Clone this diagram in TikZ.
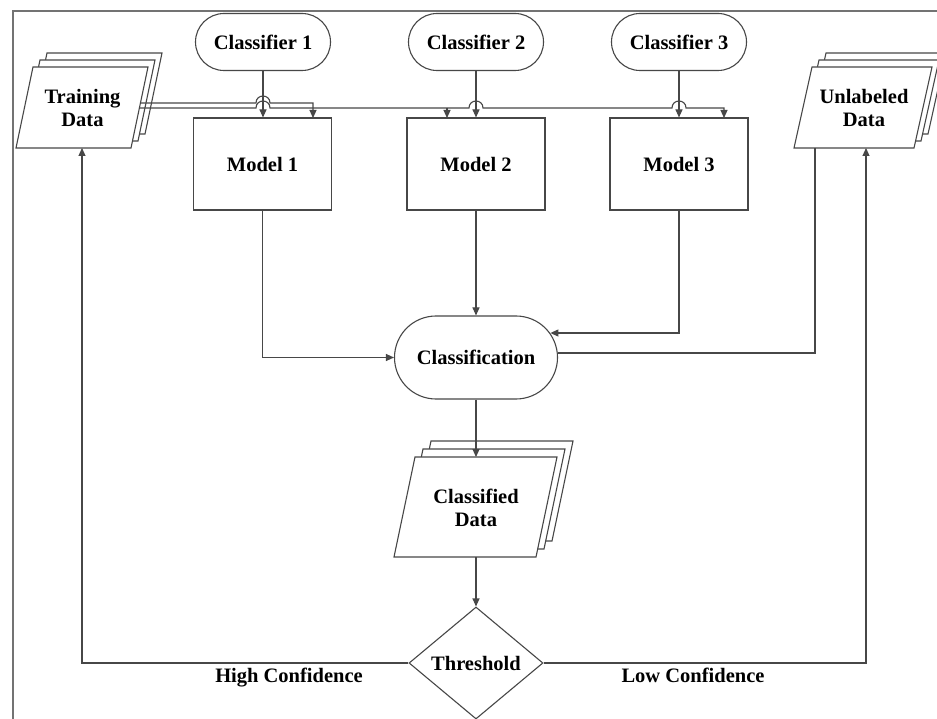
\documentclass[tikz,border=0pt]{standalone}
\usepackage{fontspec}
\setmainfont{Liberation Serif}
\usetikzlibrary{arrows.meta,shapes.geometric}
\newcommand\lbl{\fontsize{20.5}{23}\selectfont\bfseries}
\newcommand\docstack[7]{%
  \foreach \k in {2,1,0}{%
    \draw[doc] ({#1+\k*#6},{#2-\k*#7}) -- ++(#3,0) -- ++(-#5,#4) -- ++(-#3,0) -- cycle;
  }}
\begin{document}
\begin{tikzpicture}[x=1pt,y=-1pt,
  line/.style={draw=black!72,line width=1.1pt},
  arr/.style={line,-{Triangle[length=8pt,width=7pt]}},
  doc/.style={line,fill=white},
  pill/.style={line,rounded corners=28.5pt,minimum width=135pt,minimum height=57pt,inner sep=0pt,font=\lbl},
  bigpill/.style={line,rounded corners=41.5pt,minimum width=163pt,minimum height=83pt,inner sep=0pt,font=\lbl},
  model/.style={line,minimum width=138pt,minimum height=92pt,inner sep=0pt,font=\lbl},
  txt/.style={font=\lbl,align=center,inner sep=0pt},
  decide/.style={line,diamond,minimum width=134pt,minimum height=112pt,inner sep=0pt,font=\lbl}]
\useasboundingbox (0,0) rectangle (937,719);
\fill[white] (0,0) rectangle (937,719);
% frame
\draw[draw=black!55,line width=1.5pt] (13,719) -- (13,11) -- (937,11);

% document stacks
\docstack{33}{67}{115}{81}{17}{7}{7}
\docstack{812}{67}{120}{81}{18}{7}{7}
\docstack{415}{457}{142}{100}{21}{8}{8}
\node[txt] (td) at (82.5,108) {Training\\Data};
\node[txt] (ud) at (864,108) {Unlabeled\\Data};
\node[txt] (cd) at (476,508) {Classified\\Data};

% named edge points of the documents
\coordinate (tdA) at (140.4,103);
\coordinate (tdB) at (139.4,108);
\coordinate (tdBot) at (82,148);
\coordinate (udBot1) at (815,148);
\coordinate (udBot2) at (866,148);
\coordinate (cdTop) at (476,457);
\coordinate (cdBot) at (476,557);

% classifiers
\node[pill] (c1) at (263,42) {Classifier 1};
\node[pill] (c2) at (476,42) {Classifier 2};
\node[pill] (c3) at (679,42) {Classifier 3};

% models
\node[model] (m1) at (262.5,164) {Model 1};
\node[model] (m2) at (476,164) {Model 2};
\node[model] (m3) at (679,164) {Model 3};

% classification
\node[bigpill] (cls) at (476,357.5) {Classification};
\coordinate (clsR1) at (550.4,333);
\coordinate (clsR2) at (557.8,353);

% threshold
\node[decide] (thr) at (476,663) {Threshold};

% classifier -> model
\draw[arr] (c1.south) -- (c1.south |- m1.north);
\draw[arr] (c2.south) -- (c2.south |- m2.north);
\draw[arr] (c3.south) -- (c3.south |- m3.north);

% training data -> models (with hops)
\draw[arr] (tdA) -- (256,103) .. controls (256,93.7) and (270,93.7) .. (270,103)
  -- (313,103) -- (313,118);
\draw[arr] (tdB) -- (256,108) .. controls (256,98.7) and (270,98.7) .. (270,108)
  -- (469,108) .. controls (469,98.7) and (483,98.7) .. (483,108)
  -- (672,108) .. controls (672,98.7) and (686,98.7) .. (686,108)
  -- (724,108) -- (724,118);
\draw[arr] (447,108) -- (447,118);

% models -> classification
\draw[arr] (m1.south) |- (cls.west);
\draw[arr] (m2.south) -- (cls.north);
\draw[arr] (m3.south) |- (clsR1);
\draw[line] (udBot1) |- (clsR2);

% classification -> classified data -> threshold
\draw[arr] (cls.south) -- (cdTop);
\draw[arr] (cdBot) -- (thr.north);

% threshold outputs
\draw[arr] (thr.west) -| (tdBot);
\draw[arr] (thr.east) -| (udBot2);
\node[txt,anchor=base] (hc) at (289,682) {High Confidence};
\node[txt,anchor=base] (lc) at (693,682) {Low Confidence};
\end{tikzpicture}
\end{document}
